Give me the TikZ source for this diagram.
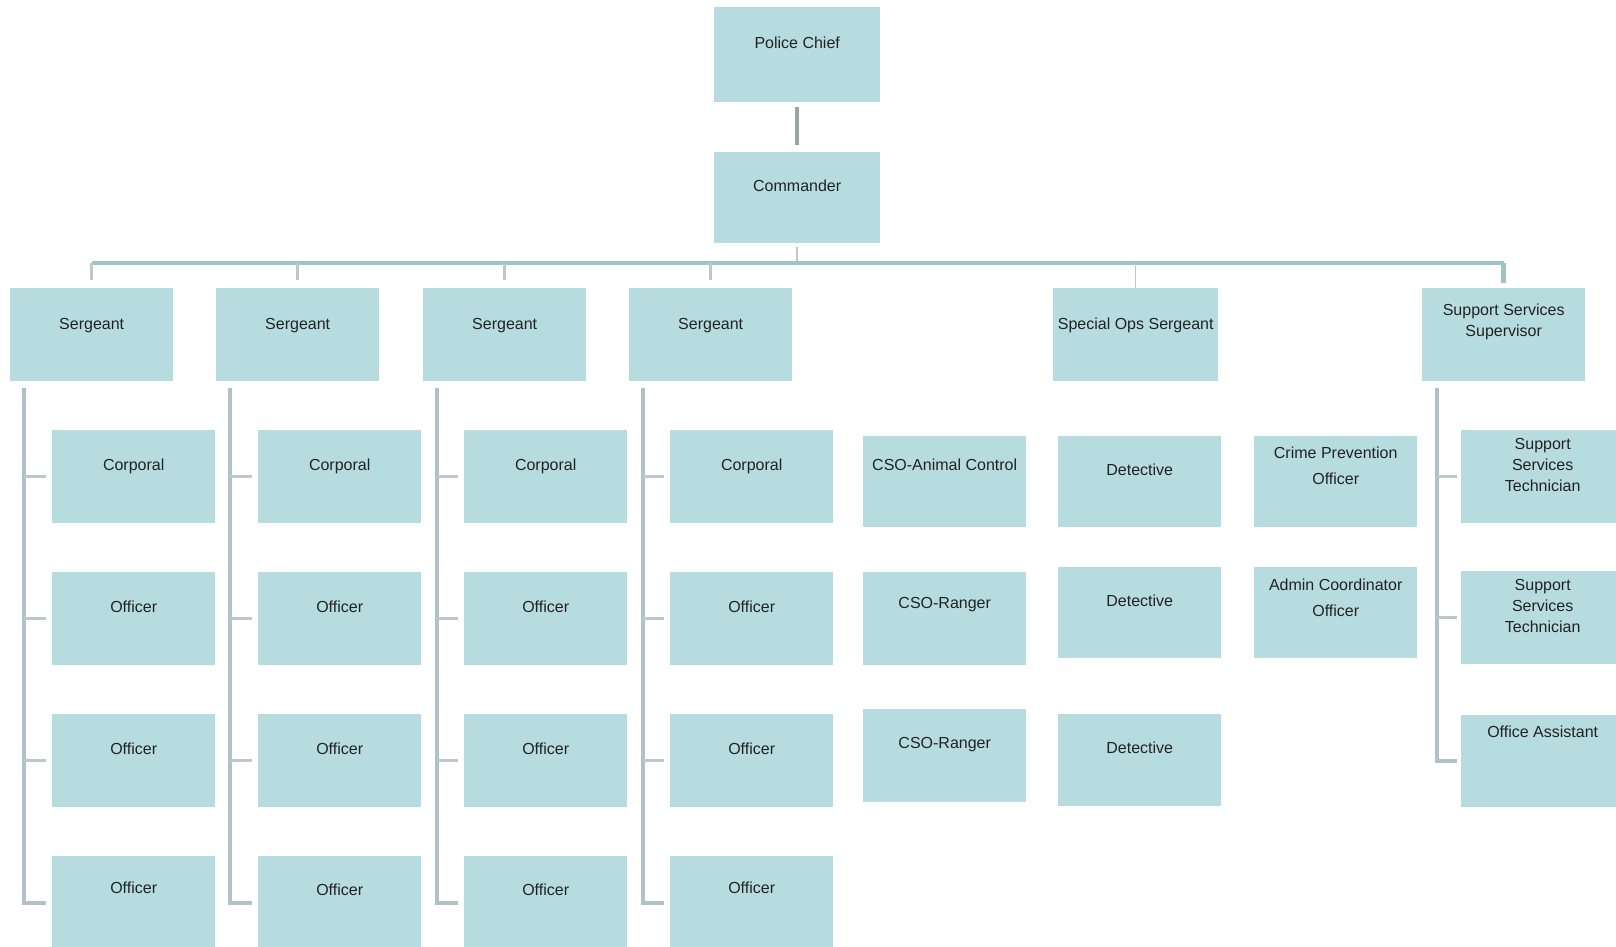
\documentclass[tikz,border=0pt]{standalone}
\usepackage{fontspec}
\setmainfont{Liberation Sans}
\definecolor{boxfill}{HTML}{B6DCE0}
\definecolor{busc}{HTML}{9EC3C8}
\definecolor{sidec}{HTML}{AFC2C5}
\definecolor{tickc}{HTML}{BCC8CA}
\definecolor{txtc}{HTML}{222222}
\definecolor{pcline}{HTML}{9AA4A7}
\newcommand{\bxt}[4]{\begin{minipage}[t][#2][t]{#1}\centering\vspace*{#3}#4\end{minipage}}
\begin{document}
\begin{tikzpicture}[x=1pt,y=-1pt,
  orgbox/.style={fill=boxfill, inner sep=0pt, anchor=north west, text=txtc,
     font=\fontsize{16}{21}\selectfont},
  busline/.style={draw=busc, line width=4.5pt},
  dropline/.style={draw=tickc, line width=2.5pt},
  sideline/.style={draw=sidec, line width=4pt},
  tickline/.style={draw=tickc, line width=2.5pt},
  chainline/.style={draw=pcline, line width=4pt}]
\useasboundingbox (0,0) rectangle (1616,946);
\fill[white] (0,0) rectangle (1616,946);

% top
\node[orgbox] (pc) at (714,7) {\bxt{166pt}{95pt}{30pt}{Police Chief}};
\node[orgbox] (cmd) at (714,152) {\bxt{166pt}{91pt}{28pt}{Commander}};

% second level
\node[orgbox] (s1) at (10,288) {\bxt{163pt}{93pt}{30pt}{Sergeant}};
\node[orgbox] (s2) at (216,288) {\bxt{163pt}{93pt}{30pt}{Sergeant}};
\node[orgbox] (s3) at (423,288) {\bxt{163pt}{93pt}{30pt}{Sergeant}};
\node[orgbox] (s4) at (629,288) {\bxt{163pt}{93pt}{30pt}{Sergeant}};
\node[orgbox] (so) at (1053,288) {\bxt{165pt}{93pt}{30pt}{Special Ops Sergeant}};
\node[orgbox] (sss) at (1422,288) {\bxt{163pt}{93pt}{16pt}{Support Services\\Supervisor}};

% sergeant columns
\node[orgbox] (c1) at (52,430) {\bxt{163pt}{93pt}{29pt}{Corporal}};
\node[orgbox] (o12) at (52,572) {\bxt{163pt}{93pt}{29pt}{Officer}};
\node[orgbox] (o13) at (52,714) {\bxt{163pt}{93pt}{29pt}{Officer}};
\node[orgbox] (o14) at (52,856) {\bxt{163pt}{93pt}{26pt}{Officer}};

\node[orgbox] (c2) at (258,430) {\bxt{163pt}{93pt}{29pt}{Corporal}};
\node[orgbox] (o22) at (258,572) {\bxt{163pt}{93pt}{29pt}{Officer}};
\node[orgbox] (o23) at (258,714) {\bxt{163pt}{93pt}{29pt}{Officer}};
\node[orgbox] (o24) at (258,856) {\bxt{163pt}{93pt}{28pt}{Officer}};

\node[orgbox] (c3) at (464,430) {\bxt{163pt}{93pt}{29pt}{Corporal}};
\node[orgbox] (o32) at (464,572) {\bxt{163pt}{93pt}{29pt}{Officer}};
\node[orgbox] (o33) at (464,714) {\bxt{163pt}{93pt}{29pt}{Officer}};
\node[orgbox] (o34) at (464,856) {\bxt{163pt}{93pt}{28pt}{Officer}};

\node[orgbox] (c4) at (670,430) {\bxt{163pt}{93pt}{29pt}{Corporal}};
\node[orgbox] (o42) at (670,572) {\bxt{163pt}{93pt}{29pt}{Officer}};
\node[orgbox] (o43) at (670,714) {\bxt{163pt}{93pt}{29pt}{Officer}};
\node[orgbox] (o44) at (670,856) {\bxt{163pt}{93pt}{26pt}{Officer}};

% CSO column
\node[orgbox] (cso1) at (863,436) {\bxt{163pt}{91pt}{23pt}{CSO-Animal Control}};
\node[orgbox] (cso2) at (863,572) {\bxt{163pt}{93pt}{25pt}{CSO-Ranger}};
\node[orgbox] (cso3) at (863,709) {\bxt{163pt}{93pt}{28pt}{CSO-Ranger}};

% Detective column
\node[orgbox] (d1) at (1058,436) {\bxt{163pt}{91pt}{28pt}{Detective}};
\node[orgbox] (d2) at (1058,567) {\bxt{163pt}{91pt}{28pt}{Detective}};
\node[orgbox] (d3) at (1058,714) {\bxt{163pt}{92pt}{28pt}{Detective}};

% Crime prevention column
\node[orgbox] (cp) at (1254,436) {\bxt{163pt}{91pt}{11pt}{Crime Prevention\\[5pt]Officer}};
\node[orgbox] (ac) at (1254,567) {\bxt{163pt}{91pt}{12pt}{Admin Coordinator\\[5pt]Officer}};

% Support services column
\node[orgbox] (sst1) at (1461,430) {\bxt{163pt}{93pt}{8pt}{Support\\Services\\Technician}};
\node[orgbox] (sst2) at (1461,571) {\bxt{163pt}{93pt}{8pt}{Support\\Services\\Technician}};
\node[orgbox] (oa) at (1461,715) {\bxt{163pt}{92pt}{11pt}{Office Assistant}};

% connectors top
\draw[chainline] ([yshift=-5pt]pc.south) -- ([yshift=7pt]cmd.north);
\coordinate (busy) at (0,263);
\draw[dropline] ([yshift=-4pt]cmd.south) -- (cmd.south |- busy);
\draw[busline] (s1.north |- busy) -- (sss.north |- busy);
\foreach \n in {s1,s2,s3,s4}{
  \draw[dropline] (\n.north |- busy) -- ([yshift=8pt]\n.north);
}
\draw[draw=tickc, line width=1.5pt] (so.north |- busy) -- (so.north);
\draw[busline] (sss.north |- busy) -- ([yshift=5pt]sss.north);

% sergeant side lines
\foreach \s/\a/\b/\c/\d in {s1/c1/o12/o13/o14, s2/c2/o22/o23/o24, s3/c3/o32/o33/o34, s4/c4/o42/o43/o44}{
  \coordinate (\s l) at ([xshift=14pt,yshift=-7pt]\s.south west);
  \draw[sideline] (\s l) |- ([xshift=-6pt]\d.west);
  \foreach \k in {\a,\b,\c}{
    \draw[tickline] (\s l |- \k.west) -- ([xshift=-6pt]\k.west);
  }
}

% support services side line
\coordinate (sssl) at ([xshift=15pt,yshift=-7pt]sss.south west);
\draw[sideline] (sssl) |- ([xshift=-4pt]oa.west);
\foreach \k in {sst1,sst2}{
  \draw[tickline] (sssl |- \k.west) -- ([xshift=-4pt]\k.west);
}
\end{tikzpicture}
\end{document}
